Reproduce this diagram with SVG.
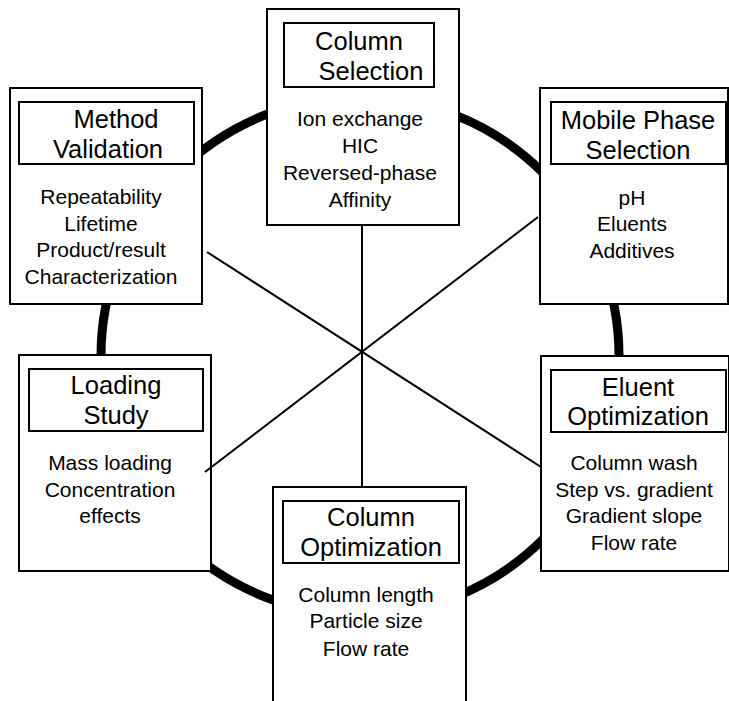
<svg xmlns="http://www.w3.org/2000/svg" width="729" height="701" viewBox="0 0 729 701">
<style>
.box{fill:#fff;stroke:#000;stroke-width:2}
.ttl{fill:none;stroke:#000;stroke-width:2}
.t{font-family:"Liberation Sans",Arial,Helvetica,sans-serif;font-size:25.5px;text-anchor:middle;fill:#000}
.b{font-family:"Liberation Sans",Arial,Helvetica,sans-serif;font-size:21px;text-anchor:middle;fill:#000}
.ring{fill:none;stroke:#000;stroke-width:9}
.ln{stroke:#000;stroke-width:2;fill:none}
</style>
<rect width="729" height="701" fill="#fff"/>
<g id="cycle">
<circle class="ring" cx="360" cy="356" r="259"/>
</g>
<g id="node-column-selection">
<rect class="box" x="267" y="9" width="192" height="216"/>
<rect class="ttl" x="284" y="23" width="150" height="64"/>
<text class="t" x="359" y="50">Column</text>
<text class="t" x="371" y="79.5">Selection</text>
<text class="b" x="360" y="126">Ion exchange</text>
<text class="b" x="360" y="153">HIC</text>
<text class="b" x="360" y="180">Reversed-phase</text>
<text class="b" x="360" y="207">Affinity</text>
</g>
<g id="node-method-validation">
<rect class="box" x="10" y="88" width="192" height="216"/>
<rect class="ttl" x="19" y="102" width="175" height="62"/>
<text class="t" x="116" y="128">Method</text>
<text class="t" x="108" y="157.5">Validation</text>
<text class="b" x="101" y="204">Repeatability</text>
<text class="b" x="101" y="231">Lifetime</text>
<text class="b" x="101" y="257">Product/result</text>
<text class="b" x="101" y="284">Characterization</text>
</g>
<g id="node-mobile-phase-selection">
<rect class="box" x="540" y="88" width="188" height="216"/>
<rect class="ttl" x="551" y="102" width="175" height="62"/>
<text class="t" x="638" y="129">Mobile Phase</text>
<text class="t" x="638" y="158.5">Selection</text>
<text class="b" x="632" y="205">pH</text>
<text class="b" x="632" y="231">Eluents</text>
<text class="b" x="632" y="258">Additives</text>
</g>
<g id="node-loading-study">
<rect class="box" x="19" y="355" width="192" height="216"/>
<rect class="ttl" x="29" y="369" width="174" height="62"/>
<text class="t" x="116" y="394">Loading</text>
<text class="t" x="116" y="423.5">Study</text>
<text class="b" x="110" y="470">Mass loading</text>
<text class="b" x="110" y="497">Concentration</text>
<text class="b" x="110" y="523">effects</text>
</g>
<g id="node-eluent-optimization">
<rect class="box" x="541" y="356" width="188" height="215"/>
<rect class="ttl" x="551" y="370" width="175" height="62"/>
<text class="t" x="638" y="395.5">Eluent</text>
<text class="t" x="638" y="425">Optimization</text>
<text class="b" x="634" y="470">Column wash</text>
<text class="b" x="634" y="497">Step vs. gradient</text>
<text class="b" x="634" y="523">Gradient slope</text>
<text class="b" x="634" y="550">Flow rate</text>
</g>
<g id="node-column-optimization">
<rect class="box" x="273" y="487" width="193" height="224"/>
<rect class="ttl" x="283" y="501" width="176" height="62"/>
<text class="t" x="371" y="526">Column</text>
<text class="t" x="371" y="555.5">Optimization</text>
<text class="b" x="366" y="602">Column length</text>
<text class="b" x="366" y="628">Particle size</text>
<text class="b" x="366" y="656">Flow rate</text>
</g>
<g id="connectors">
<line class="ln" x1="362" y1="225" x2="362" y2="487"/>
<line class="ln" x1="207" y1="252" x2="541" y2="467"/>
<line class="ln" x1="205" y1="472" x2="538" y2="217"/>
</g>
</svg>
